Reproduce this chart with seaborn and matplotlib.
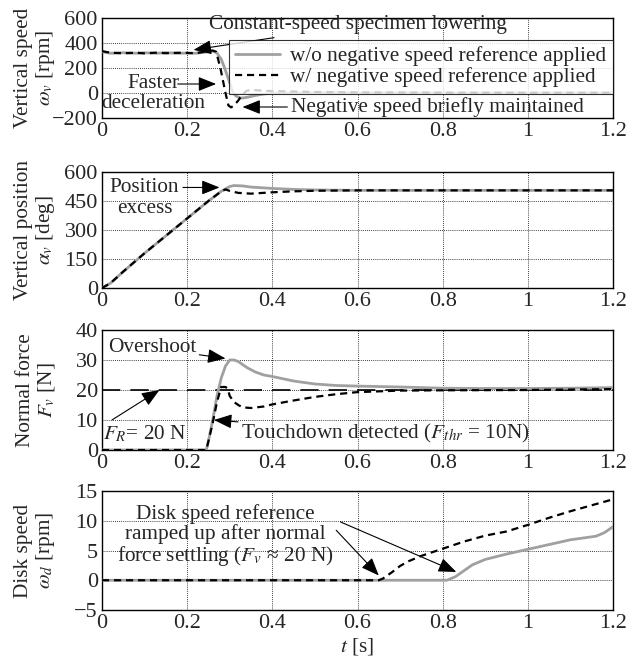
import matplotlib
matplotlib.use("Agg")
import matplotlib.pyplot as plt
import seaborn as sns
import pandas as pd

# ---------------- data ----------------
# Panel 1: vertical speed [rpm]
spd_wo_t = [0, 0.02, 0.05, 0.08, 0.1, 0.13, 0.15, 0.18, 0.2, 0.22, 0.24, 0.26, 0.27, 0.28, 0.288, 0.30,
            0.308, 0.315, 0.325, 0.33, 0.34, 0.36, 0.38, 0.40, 0.45, 0.5, 0.6, 0.8, 1.0, 1.2]
spd_wo_v = [330, 318, 322, 318, 322, 318, 323, 317, 320, 318, 325, 335, 320, 270, 200, 80,
            0, -25, -40, -40, -35, -20, -8, -2, 2, 3, 2, 1, 1, 1]
spd_w_t = [0, 0.02, 0.05, 0.08, 0.1, 0.13, 0.15, 0.18, 0.2, 0.22, 0.24, 0.26, 0.268, 0.278, 0.29, 0.297,
           0.303, 0.31, 0.32, 0.33, 0.34, 0.35, 0.37, 0.40, 0.45, 0.5, 0.6, 0.8, 1.0, 1.2]
spd_w_v = [335, 322, 318, 322, 317, 323, 318, 322, 320, 318, 330, 340, 330, 200, 0, -100,
           -115, -100, -60, -10, 18, 25, 20, 15, 12, 8, 5, 3, 2, 2]

# Panel 2: vertical position [deg]
pos_wo_t = [0, 0.02, 0.05, 0.1, 0.15, 0.2, 0.25, 0.28, 0.30, 0.31, 0.33, 0.35, 0.4, 0.45, 0.5, 0.6, 0.8, 1.0, 1.2]
pos_wo_v = [0, 25, 85, 180, 270, 360, 450, 500, 525, 530, 528, 522, 515, 510, 507, 505, 505, 505, 505]
pos_w_t = [0, 0.02, 0.05, 0.1, 0.15, 0.2, 0.25, 0.28, 0.29, 0.30, 0.32, 0.35, 0.4, 0.45, 0.5, 0.6, 0.8, 1.0, 1.2]
pos_w_v = [0, 25, 85, 180, 270, 360, 450, 500, 510, 502, 492, 488, 495, 500, 503, 505, 505, 505, 505]

# Panel 3: normal force [N]
frc_wo_t = [0, 0.24, 0.245, 0.25, 0.26, 0.27, 0.28, 0.29, 0.30, 0.31, 0.32, 0.34, 0.36, 0.38, 0.40,
            0.45, 0.5, 0.55, 0.6, 0.7, 0.8, 0.9, 1.0, 1.1, 1.2]
frc_wo_v = [0, 0, 0, 3, 10, 18, 24, 28, 30, 30, 29.5, 27.5, 26, 25, 24.5,
            23, 22, 21.5, 21.3, 21, 20.6, 20.5, 20.5, 20.6, 20.8]
frc_w_t = [0, 0.24, 0.245, 0.25, 0.26, 0.27, 0.28, 0.29, 0.295, 0.30, 0.31, 0.32, 0.33, 0.35, 0.38,
           0.40, 0.45, 0.5, 0.55, 0.6, 0.7, 0.8, 1.0, 1.2]
frc_w_v = [0, 0, 0, 3, 9, 16, 21, 21, 20.5, 18, 16, 15, 14.2, 14, 14.5,
           15.2, 16.5, 17.7, 18.6, 19.3, 19.8, 19.9, 20, 20.3]
frc_ref_t = [0, 1.2]
frc_ref_v = [20, 20]

# Panel 4: disk speed [rpm]
dsk_wo_t = [0, 0.3, 0.6, 0.81, 0.83, 0.85, 0.87, 0.9, 0.95, 1.0, 1.05, 1.1, 1.13, 1.16, 1.18, 1.2]
dsk_wo_v = [0, 0, 0, 0, 0.6, 1.6, 2.6, 3.5, 4.4, 5.2, 6.0, 6.8, 7.1, 7.4, 8.0, 9.0]
dsk_w_t = [0, 0.3, 0.6, 0.65, 0.66, 0.68, 0.7, 0.72, 0.75, 0.8, 0.85, 0.9, 0.95, 1.0, 1.05, 1.1, 1.15, 1.2]
dsk_w_v = [0, 0, 0, 0.0, 0.3, 1.3, 2.4, 3.2, 4.1, 5.3, 6.5, 7.5, 8.2, 9.3, 10.5, 11.6, 12.6, 13.6]

x_ticks = [0, 0.2, 0.4, 0.6, 0.8, 1.0, 1.2]
x_tick_labels = ["0", "0.2", "0.4", "0.6", "0.8", "1", "1.2"]
y_ticks = [[-200, 0, 200, 400, 600], [0, 150, 300, 450, 600], [0, 10, 20, 30, 40], [-5, 0, 5, 10, 15]]
y_labels = ["Vertical speed\n$\\omega_v$ [rpm]", "Vertical position\n$\\alpha_v$ [deg]",
            "Normal force\n$F_v$ [N]", "Disk speed\n$\\omega_d$ [rpm]"]
legend_labels = ["w/o negative speed reference applied", "w/ negative speed reference applied"]

# ---------------- style ----------------
sns.set_theme(style="white")
plt.rcParams["font.family"] = ["Liberation Serif", "DejaVu Serif"]
plt.rcParams["mathtext.fontset"] = "stix"
plt.rcParams["axes.edgecolor"] = "black"
plt.rcParams["axes.linewidth"] = 1.0

GRAY = "#a0a0a0"
TICK_FS = 16
LAB_FS = 15.3
TFS = 15.3
DASH = (0, (3.2, 2.2))

fig = plt.figure(figsize=(6.37, 6.62), dpi=100)
H = 662.0
W = 637.0
left, right = 102 / W, 613 / W
panels_px = [(18, 118), (172, 288), (330, 450), (491, 610)]
axes = []
for top, bot in panels_px:
    ax = fig.add_axes([left, 1 - bot / H, right - left, (bot - top) / H])
    axes.append(ax)


def draw(ax, t_wo, v_wo, t_w, v_w, label=False):
    d1 = pd.DataFrame({"t": t_wo, "v": v_wo})
    d2 = pd.DataFrame({"t": t_w, "v": v_w})
    sns.lineplot(data=d1, x="t", y="v", ax=ax, color=GRAY, lw=2.0,
                 label=legend_labels[0] if label else None, zorder=3)
    sns.lineplot(data=d2, x="t", y="v", ax=ax, color="black", lw=1.6,
                 label=legend_labels[1] if label else None, zorder=4)
    ax.lines[-1].set_linestyle(DASH)


draw(axes[0], spd_wo_t, spd_wo_v, spd_w_t, spd_w_v, label=True)
draw(axes[1], pos_wo_t, pos_wo_v, pos_w_t, pos_w_v)
draw(axes[2], frc_wo_t, frc_wo_v, frc_w_t, frc_w_v)
sns.lineplot(x=frc_ref_t, y=frc_ref_v, ax=axes[2], color="black", lw=1.2, zorder=2)
axes[2].lines[-1].set_linestyle((0, (11, 6)))
draw(axes[3], dsk_wo_t, dsk_wo_v, dsk_w_t, dsk_w_v)

for i, ax in enumerate(axes):
    ax.set_xlim(0, 1.2)
    ax.set_xticks(x_ticks)
    ax.set_xticklabels(x_tick_labels)
    ax.set_ylim(y_ticks[i][0], y_ticks[i][-1])
    ax.set_yticks(y_ticks[i])
    ax.grid(True, color="black", linestyle=(0, (1, 1.5)), lw=0.6)
    ax.set_axisbelow(True)
    ax.tick_params(axis="both", labelsize=TICK_FS, length=0, pad=3)
    ax.set_xlabel("")
    ax.set_ylabel(y_labels[i], fontsize=LAB_FS, linespacing=1.05)
    ax.yaxis.set_label_coords((57 - 102) / 511, 0.5)
    for s in ax.spines.values():
        s.set_visible(True)
        s.set_color("black")
        s.set_linewidth(1.0)
axes[3].set_xlabel("$t$ [s]", fontsize=LAB_FS, labelpad=2)

leg = axes[0].legend(loc="upper right", bbox_to_anchor=(1.0, 0.78), borderaxespad=0,
                     fontsize=TFS, frameon=True, fancybox=False, handlelength=2.1,
                     borderpad=0.3, labelspacing=0.05, handletextpad=0.5)
leg.get_frame().set_edgecolor("black")
leg.get_frame().set_linewidth(0.8)
leg.get_lines()[1].set_linestyle(DASH)

ap = dict(arrowstyle="-|>,head_length=0.55,head_width=0.22", color="black", lw=0.8,
          mutation_scale=20, shrinkA=0, shrinkB=0)
a = axes[0]
a.annotate("Constant-speed specimen lowering", xy=(0.215, 345), xytext=(0.252, 545),
           fontsize=TFS, ha="left", va="center", arrowprops=ap)
a.text(0.12, 72, "Faster", fontsize=TFS, ha="center", va="center")
a.text(0.12, -85, "deceleration", fontsize=TFS, ha="center", va="center")
a.annotate("", xy=(0.268, 72), xytext=(0.178, 72), arrowprops=ap)
a.annotate("Negative speed briefly maintained", xy=(0.33, -112), xytext=(0.443, -112),
           fontsize=TFS, ha="left", va="center", arrowprops=ap)

a = axes[1]
a.text(0.10, 520, "Position", fontsize=TFS, ha="center", va="center")
a.text(0.10, 410, "excess", fontsize=TFS, ha="center", va="center")
a.annotate("", xy=(0.276, 520), xytext=(0.19, 520), arrowprops=ap)

a = axes[2]
a.annotate("Overshoot", xy=(0.29, 30.5), xytext=(0.117, 34), fontsize=TFS,
           ha="center", va="center", arrowprops=ap)
a.annotate("$F_R$= 20 N", xy=(0.135, 20), xytext=(0.1, 5.5), fontsize=TFS,
           ha="center", va="center", arrowprops=dict(ap, relpos=(0.05, 1.0)))
a.annotate("Touchdown detected ($F_{thr}$ = 10N)", xy=(0.263, 10), xytext=(0.327, 5.5),
           fontsize=TFS, ha="left", va="center", arrowprops=ap)

a = axes[3]
a.text(0.29, 7.4, "Disk speed reference\nramped up after normal\nforce settling ($F_v$ ≈ 20 N)",
       fontsize=TFS, ha="center", va="center", linespacing=1.0)
a.annotate("", xy=(0.65, 0.8), xytext=(0.55, 8.4), arrowprops=ap)
a.annotate("", xy=(0.832, 1.4), xytext=(0.56, 9.8), arrowprops=ap)

fig.savefig("out.png", dpi=100)
